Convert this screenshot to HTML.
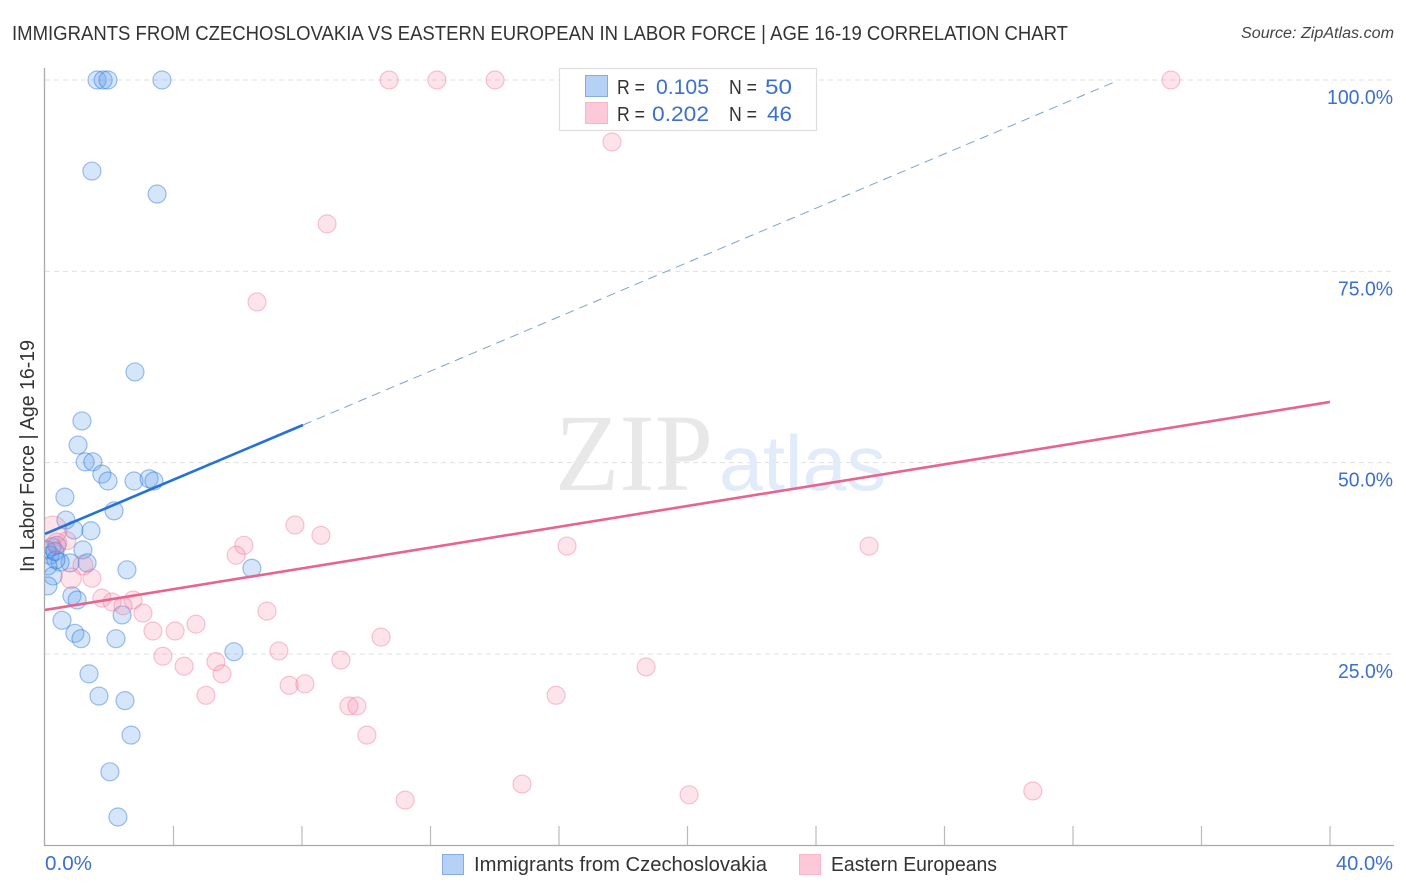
<!DOCTYPE html>
<html lang="en">
<head>
<meta charset="utf-8">
<title>Immigrants from Czechoslovakia vs Eastern European in Labor Force | Age 16-19 Correlation Chart</title>
<style>
  html, body { margin: 0; padding: 0; background: #fff; }
  body { width: 1406px; height: 892px; overflow: hidden; font-family: "Liberation Sans", sans-serif; }
  svg { display: block; }
  text { font-family: "Liberation Sans", sans-serif; }
</style>
</head>
<body>
<svg id="chart" width="1406" height="892" viewBox="0 0 1406 892" xmlns="http://www.w3.org/2000/svg">
  <defs>
    <clipPath id="plot-clip"><rect x="45" y="60" width="1349" height="785"/></clipPath>
  </defs>
  <rect x="0" y="0" width="1406" height="892" fill="#ffffff"/>
  <text x="12" y="40" font-size="20" fill="#333333" textLength="1056" lengthAdjust="spacingAndGlyphs">IMMIGRANTS FROM CZECHOSLOVAKIA VS EASTERN EUROPEAN IN LABOR FORCE | AGE 16-19 CORRELATION CHART</text>
  <text x="1394" y="38" font-size="15.5" font-style="italic" fill="#444444" text-anchor="end" textLength="153" lengthAdjust="spacingAndGlyphs">Source: ZipAtlas.com</text>
  <g id="grid"></g>
  <g>
    <text x="555" y="490" font-size="110" fill="#e8e8e8" style="font-family:'Liberation Serif',serif" textLength="158" lengthAdjust="spacingAndGlyphs">ZIP</text>
    <text x="719" y="490" font-size="78" fill="#e2ebf9" style="font-family:'Liberation Sans',sans-serif" textLength="167" lengthAdjust="spacingAndGlyphs">atlas</text>
  </g>
  <g id="axes">
    <line x1="44.5" y1="68" x2="44.5" y2="846" stroke="#aaaaaa" stroke-width="1.3"/>
    <line x1="44" y1="845.5" x2="1394" y2="845.5" stroke="#aaaaaa" stroke-width="1.3"/>
  </g>
  <g id="points" clip-path="url(#plot-clip)"></g>
  <g id="trends"></g>
  <g id="tick-labels"></g>
  <text transform="translate(34,572) rotate(-90)" font-size="20" fill="#333333" textLength="232" lengthAdjust="spacingAndGlyphs">In Labor Force | Age 16-19</text>

  <g>
    <rect x="559.5" y="68.5" width="257" height="62" fill="#ffffff" stroke="#dddddd" stroke-width="1.2"/>
    <rect x="585.5" y="75.5" width="22" height="21" fill="#b5d2f6" stroke="#85ade3" stroke-width="1"/>
    <rect x="585.5" y="102.5" width="22" height="21" fill="#fdc8d8" stroke="#f9b6ca" stroke-width="1"/>
    <text x="617" y="94" font-size="20" fill="#333333" textLength="28" lengthAdjust="spacingAndGlyphs">R =</text>
    <text x="656" y="94" font-size="21.5" fill="#3b6fd0" textLength="53" lengthAdjust="spacingAndGlyphs">0.105</text>
    <text x="729" y="94" font-size="20" fill="#333333" textLength="28" lengthAdjust="spacingAndGlyphs">N =</text>
    <text x="765" y="94" font-size="21.5" fill="#3b6fd0" textLength="27" lengthAdjust="spacingAndGlyphs">50</text>
    <text x="617" y="121" font-size="20" fill="#333333" textLength="28" lengthAdjust="spacingAndGlyphs">R =</text>
    <text x="652" y="121" font-size="21.5" fill="#3b6fd0" textLength="57" lengthAdjust="spacingAndGlyphs">0.202</text>
    <text x="729" y="121" font-size="20" fill="#333333" textLength="28" lengthAdjust="spacingAndGlyphs">N =</text>
    <text x="767" y="121" font-size="21.5" fill="#3b6fd0" textLength="25" lengthAdjust="spacingAndGlyphs">46</text>
  </g>

  <g>
    <g>
      <rect x="442.5" y="854.5" width="21" height="20" fill="#b5d2f6" stroke="#85ade3" stroke-width="1"/>
      <text x="474" y="871" font-size="20" fill="#333333" textLength="293" lengthAdjust="spacingAndGlyphs">Immigrants from Czechoslovakia</text>
    </g>
    <g>
      <rect x="799.5" y="854.5" width="21" height="20" fill="#fdc8d8" stroke="#f9b6ca" stroke-width="1"/>
      <text x="831" y="871" font-size="20" fill="#333333" textLength="166" lengthAdjust="spacingAndGlyphs">Eastern Europeans</text>
    </g>
  </g>
</svg>

<script>
const xTicks = [4, 8, 12, 16, 20, 24, 28, 32, 36, 40];
const yGridValues = [100, 75, 50, 25];
const yTickLabels = ["100.0%", "75.0%", "50.0%", "25.0%"];
const xTickLabels = ["0.0%", "40.0%"];

const immigrantsX = [1.62, 1.81, 1.96, 3.64, 1.46, 3.49, 2.80, 1.15, 1.03, 1.25, 1.49, 1.77, 1.96, 2.77, 3.24, 3.39, 0.62, 2.15, 0.65, 0.90, 1.43, 1.18, 1.31, 0.78, 2.55, 6.44, 0.37, 0.22, 0.16, 0.06, 0.47, 0.34, 0.09, 0.25, 0.09, 0.84, 1.00, 2.40, 0.53, 0.93, 1.12, 2.21, 5.88, 1.37, 1.68, 2.49, 2.68, 2.02, 2.27, 0.31];
const immigrantsY = [100, 100, 100, 100, 88.1, 85.1, 61.85, 55.45, 52.3, 50.1, 50.1, 48.5, 47.6, 47.6, 47.9, 47.6, 45.5, 43.7, 42.5, 41.2, 41.1, 38.6, 36.9, 36.9, 36.0, 36.2, 39.2, 39.0, 37.9, 38.6, 37.0, 37.3, 36.5, 35.2, 33.9, 32.6, 32.05, 30.1, 29.4, 27.7, 27.0, 27.0, 25.3, 22.4, 19.5, 18.9, 14.4, 9.6, 3.7, 38.4];

const easternX = [10.71, 12.20, 14.01, 35.05, 17.65, 8.78, 6.60, 7.78, 8.59, 6.19, 5.95, 16.25, 25.65, 0.25, 0.68, 0.37, 1.18, 1.46, 0.81, 1.77, 2.09, 2.43, 2.74, 3.05, 3.36, 4.05, 4.70, 6.91, 3.67, 4.33, 5.32, 5.51, 5.01, 7.28, 7.60, 8.09, 9.21, 10.46, 9.46, 9.71, 10.02, 11.21, 14.85, 15.91, 18.71, 20.05, 30.75];
const easternY = [100, 100, 100, 100, 91.9, 81.2, 71.0, 41.85, 40.5, 39.2, 37.9, 39.1, 39.1, 41.2, 39.8, 39.5, 36.6, 34.9, 34.9, 32.3, 31.8, 31.3, 32.05, 30.35, 28.0, 28.0, 28.9, 30.6, 24.7, 23.4, 24.0, 22.4, 19.6, 25.4, 20.9, 21.1, 24.2, 27.2, 18.2, 18.2, 14.4, 5.9, 8.0, 19.6, 23.3, 6.6, 7.1];
const easternWeight = [1, 1, 1, 1, 1, 1, 1, 1, 1, 1, 1, 1, 1, 2.4, 1, 1.2, 1.2, 1, 1.3, 1, 1, 1, 1, 1, 1, 1, 1, 1, 1, 1, 1, 1, 1, 1, 1, 1, 1, 1, 1, 1, 1, 1, 1, 1, 1, 1, 1];

const immigrantsTrendX = [0, 8.03, 33.3];
const immigrantsTrendY = [40.68, 54.92, 99.75];
const easternTrendX = [0, 40];
const easternTrendY = [30.75, 57.93];

function xScale(v) { return 45 + v * 32.125; }
function yScale(v) { return 845.3 - v * 7.653; }
function radius(w) { return 9 * Math.sqrt(w); }

const NS = "http://www.w3.org/2000/svg";
function make(tag, attrs, parent) {
  const el = document.createElementNS(NS, tag);
  for (const k in attrs) el.setAttribute(k, attrs[k]);
  parent.appendChild(el);
  return el;
}

const grid = document.getElementById("grid");
yGridValues.forEach(function (v) {
  const line = make("line", { x1: 45, x2: 1394, y1: yScale(v), y2: yScale(v), stroke: "#e0e0e0", "stroke-width": 1, "stroke-dasharray": "5 4" }, grid);
  
  
});

const axes = document.getElementById("axes");
xTicks.forEach(function (v) {
  const tick = make("line", { x1: xScale(v), x2: xScale(v), y1: 826, y2: 845, stroke: "#bbbbbb", "stroke-width": 1.2 }, axes);
  
  
});

const labels = document.getElementById("tick-labels");
yGridValues.forEach(function (v, i) {
  const t = make("text", { x: 1393, y: yScale(v) + 24, "font-size": 20, fill: "#3b6fd0", "text-anchor": "end", textLength: yTickLabels[i].length * 11, lengthAdjust: "spacingAndGlyphs" }, labels);
  t.textContent = yTickLabels[i];
  
  
});
const xLabelLeft = make("text", { x: 45, y: 870, "font-size": 20, fill: "#3b6fd0", textLength: 47, lengthAdjust: "spacingAndGlyphs" }, labels);
xLabelLeft.textContent = xTickLabels[0];


const xLabelRight = make("text", { x: 1393, y: 870, "font-size": 20, fill: "#3b6fd0", "text-anchor": "end", textLength: 57, lengthAdjust: "spacingAndGlyphs" }, labels);
xLabelRight.textContent = xTickLabels[1];



const points = document.getElementById("points");
immigrantsX.forEach(function (x, i) {
  const c = make("circle", { cx: xScale(x), cy: yScale(immigrantsY[i]), r: radius(1), fill: "rgba(90,155,235,0.25)", stroke: "rgba(30,110,215,0.42)", "stroke-width": 1.2 }, points);
  
  
});
easternX.forEach(function (x, i) {
  const c = make("circle", { cx: xScale(x), cy: yScale(easternY[i]), r: radius(easternWeight[i]), fill: "rgba(245,130,165,0.22)", stroke: "rgba(235,100,145,0.36)", "stroke-width": 1.2 }, points);
  
  
});

const trends = document.getElementById("trends");
const blueSolid = make("line", { x1: xScale(immigrantsTrendX[0]), y1: yScale(immigrantsTrendY[0]), x2: xScale(immigrantsTrendX[1]), y2: yScale(immigrantsTrendY[1]), stroke: "#2472d8", "stroke-width": 2.6 }, trends);


const blueDash = make("line", { x1: xScale(immigrantsTrendX[1]), y1: yScale(immigrantsTrendY[1]), x2: xScale(immigrantsTrendX[2]), y2: yScale(immigrantsTrendY[2]), stroke: "#7f9fd8", "stroke-width": 1, "stroke-dasharray": "9 6" }, trends);


const pinkLine = make("line", { x1: xScale(easternTrendX[0]), y1: yScale(easternTrendY[0]), x2: xScale(easternTrendX[1]), y2: yScale(easternTrendY[1]), stroke: "#e8648f", "stroke-width": 2.6 }, trends);


</script>
</body>
</html>
